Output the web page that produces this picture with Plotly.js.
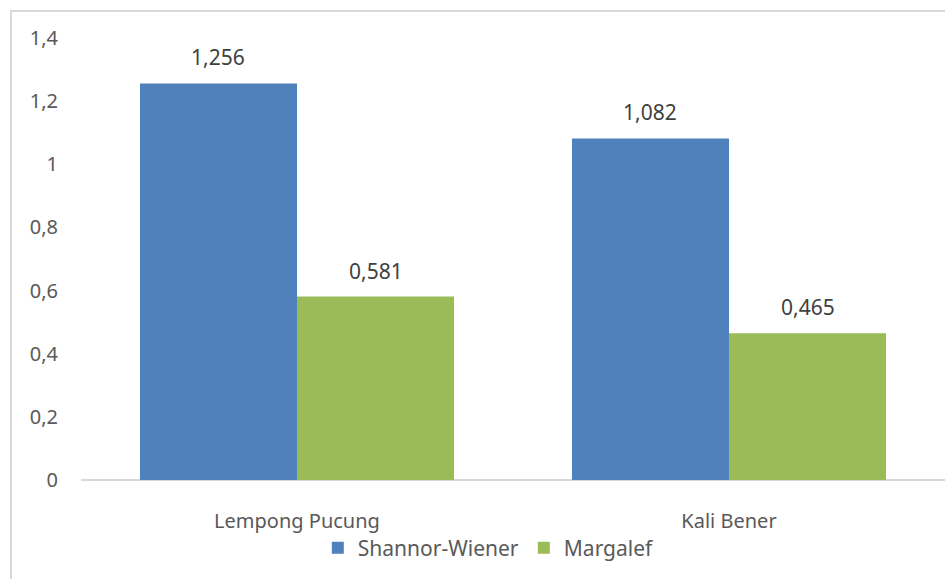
<!DOCTYPE html>
<html>
<head>
<meta charset="utf-8">
<script src="https://cdn.plot.ly/plotly-3.0.1.min.js"></script>
<style>
html,body{margin:0;padding:0;background:#fff;}
#chart{width:945px;height:579px;}
</style>
</head>
<body>
<div id="chart"></div>
<script>
const categories = ["Lempong Pucung", "Kali Bener"];
const seriesNames = ["Shannor-Wiener", "Margalef"];
const shannonWiener = [1.256, 1.082];
const margalef = [0.581, 0.465];
const yTicks = [0, 0.2, 0.4, 0.6, 0.8, 1, 1.2, 1.4];

const colors = ["#4f81bd", "#9bbb59"];
const font = "Noto Sans, Open Sans, sans-serif";
const bargap = 0.273;

const series = [shannonWiener, margalef];
const traces = series.map((vals, k) => ({
  type: "bar",
  name: seriesNames[k],
  x: categories,
  y: vals,
  marker: {color: colors[k]},
  hoverinfo: "none"
}));

const fmt = v => v.toFixed(3).replace(".", ",");
const half = (1 - bargap) / 4;
const annotations = [];
series.forEach((vals, k) => {
  vals.forEach((v, i) => {
    annotations.push({
      x: i + (k === 0 ? -half : half),
      y: v,
      xref: "x", yref: "y",
      text: fmt(v),
      showarrow: false,
      yanchor: "middle",
      yshift: 26,
      font: {family: font, size: 21, color: "#404040"}
    });
  });
});

const layout = {
  width: 945, height: 579,
  margin: {l: 81, r: 0, t: 38, b: 99, pad: 0},
  paper_bgcolor: "#ffffff",
  plot_bgcolor: "#ffffff",
  separators: ",.",
  barmode: "group",
  bargap: bargap,
  bargroupgap: 0,
  showlegend: true,
  legend: {
    orientation: "h",
    x: 0.472, xanchor: "center",
    y: -0.154, yanchor: "middle",
    bgcolor: "rgba(0,0,0,0)",
    font: {family: font, size: 21, color: "#595959"},
    itemwidth: 30,
    tracegroupgap: 0
  },
  xaxis: {
    type: "category",
    showgrid: false,
    zeroline: false,
    showline: false,
    ticks: "",
    ticklabelstandoff: 27,
    tickfont: {family: font, size: 20, color: "#595959"}
  },
  yaxis: {
    range: [0, 1.4],
    tickvals: yTicks,
    showgrid: false,
    zeroline: true,
    zerolinecolor: "#d9d9d9",
    zerolinewidth: 1.5,
    showline: false,
    ticks: "",
    ticklabelstandoff: 22,
    tickfont: {family: font, size: 20, color: "#595959"}
  },
  shapes: [{
    type: "rect", xref: "paper", yref: "paper",
    x0: -0.081, x1: 1.2, y0: -0.6, y1: 1.061,
    line: {color: "#d9d9d9", width: 2},
    fillcolor: "rgba(0,0,0,0)",
    layer: "below"
  }],
  annotations: annotations
};

Plotly.newPlot("chart", traces, layout, {displayModeBar: false, staticPlot: true});
</script>
</body>
</html>
